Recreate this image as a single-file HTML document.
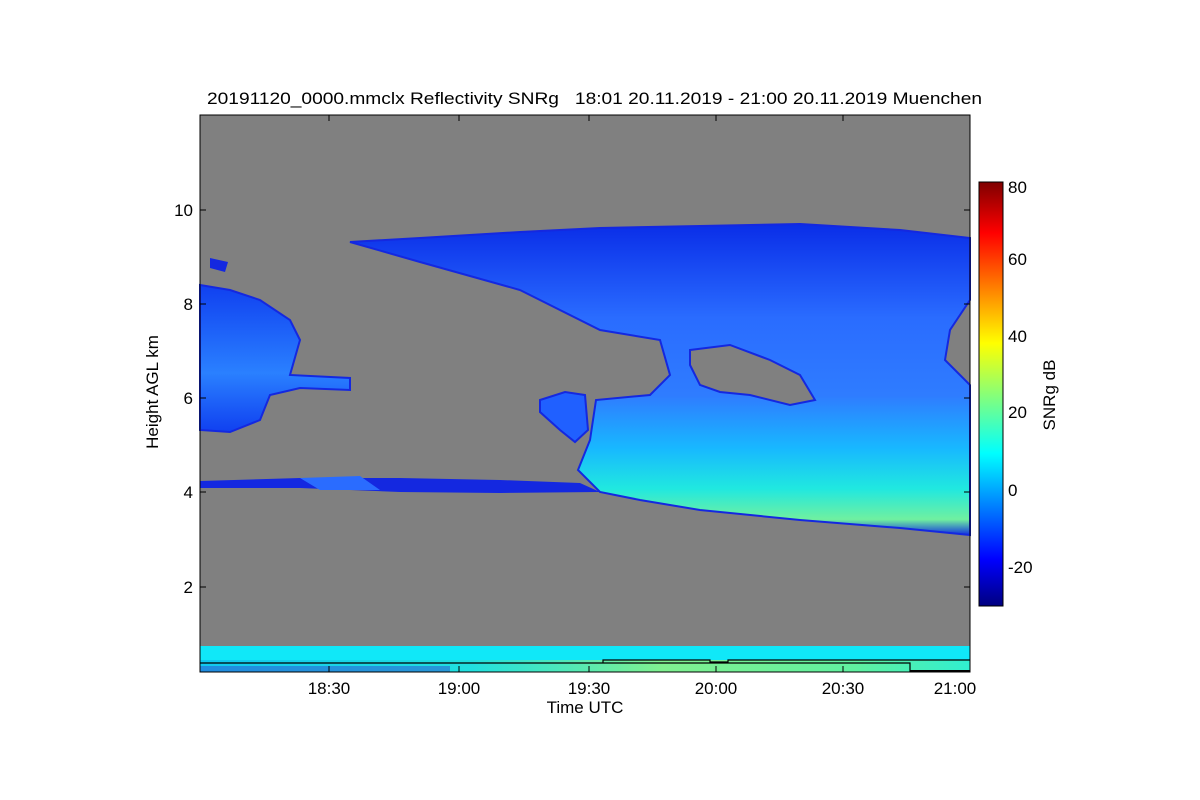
<!DOCTYPE html><html><head><style>body{margin:0;background:#fff}svg{display:block}text{font-family:"Liberation Sans",sans-serif;fill:#000}</style></head><body>
<svg width="1200" height="800" viewBox="0 0 1200 800" xmlns="http://www.w3.org/2000/svg">
<defs>
<linearGradient id="jet" x1="0" y1="1" x2="0" y2="0">
<stop offset="0" stop-color="#00007f"/><stop offset="0.11" stop-color="#0000ff"/><stop offset="0.36" stop-color="#00ffff"/><stop offset="0.62" stop-color="#ffff00"/><stop offset="0.88" stop-color="#ff0000"/><stop offset="1" stop-color="#7f0000"/>
</linearGradient>
<linearGradient id="cv" x1="0" y1="225" x2="0" y2="535" gradientUnits="userSpaceOnUse">
<stop offset="0" stop-color="#0a2ee8"/><stop offset="0.3" stop-color="#2a6cff"/><stop offset="0.55" stop-color="#2f7cff"/><stop offset="0.72" stop-color="#18b8ff"/><stop offset="0.85" stop-color="#20e8e0"/><stop offset="0.95" stop-color="#70f0a0"/><stop offset="1" stop-color="#1030e0"/>
</linearGradient>
<linearGradient id="cl" x1="0" y1="285" x2="0" y2="432" gradientUnits="userSpaceOnUse">
<stop offset="0" stop-color="#1040f0"/><stop offset="0.6" stop-color="#2a80ff"/><stop offset="1" stop-color="#1040f0"/>
</linearGradient>
<linearGradient id="gh" x1="200" y1="0" x2="970" y2="0" gradientUnits="userSpaceOnUse">
<stop offset="0" stop-color="#10c8f0"/><stop offset="0.35" stop-color="#20e0e0"/><stop offset="0.6" stop-color="#80f090"/><stop offset="0.85" stop-color="#60f0a0"/><stop offset="1" stop-color="#30f0d0"/>
</linearGradient>
</defs>
<text x="207" y="104" font-size="17" textLength="775" lengthAdjust="spacingAndGlyphs" xml:space="preserve">20191120_0000.mmclx Reflectivity SNRg   18:01 20.11.2019 - 21:00 20.11.2019 Muenchen</text>
<rect x="200" y="115" width="770" height="557" fill="#808080"/>
<path d="M350,242 L420,238 L520,232 L600,228 L700,226 L800,224 L900,230 L970,238 L970,300 L950,330 L945,360 L970,385 L970,535 L900,528 L800,520 L700,510 L640,500 L600,492 L578,470 L590,440 L596,400 L650,395 L670,375 L660,340 L600,330 L520,290 L420,262 Z" fill="url(#cv)" stroke="#1428e0" stroke-width="2"/>
<path d="M690,350 L730,345 L770,360 L800,375 L815,400 L790,405 L750,395 L720,392 L700,385 L690,365 Z" fill="#808080" stroke="#1428e0" stroke-width="2"/>
<path d="M200,481 L300,478 L400,478 L500,480 L580,483 L600,492 L500,493 L400,492 L300,488 L200,488 Z" fill="#1428e0"/>
<path d="M300,478 L360,476 L380,490 L320,490 Z" fill="#2a6cff"/>
<path d="M200,285 L230,290 L260,300 L290,320 L300,340 L290,375 L350,378 L350,390 L300,388 L270,395 L260,420 L230,432 L200,430 Z" fill="url(#cl)" stroke="#1428e0" stroke-width="2"/>
<path d="M210,258 L228,262 L225,272 L210,268 Z" fill="#1428e0"/>
<path d="M540,400 L565,392 L585,395 L588,430 L575,442 L560,430 L540,412 Z" fill="#2060ff" stroke="#1428e0" stroke-width="2"/>
<rect x="200" y="646" width="770" height="15" fill="#10e8f8"/>
<rect x="200" y="660" width="770" height="12" fill="url(#gh)"/>
<rect x="200" y="666" width="250" height="6" fill="#3050d0" opacity="0.5"/>
<path d="M200,663 H910 V672 M603,663 V660 H710 V662 H728 V660 H970" fill="none" stroke="#000" stroke-width="1.2"/>
<rect x="910" y="670" width="60" height="2" fill="#000"/>
<rect x="200" y="115" width="770" height="557" fill="none" stroke="#000" stroke-width="1"/>
<g stroke="#000" stroke-width="1">
<path d="M200,210h6M200,304h6M200,398h6M200,492h6M200,587h6M970,210h-6M970,304h-6M970,398h-6M970,492h-6M970,587h-6"/>
<path d="M329,672v-6M459,672v-6M589,672v-6M716,672v-6M843,672v-6M329,115v6M459,115v6M589,115v6M716,115v6M843,115v6"/>
</g>
<g font-size="17" text-anchor="end">
<text x="193" y="216">10</text><text x="193" y="310">8</text><text x="193" y="404">6</text><text x="193" y="498">4</text><text x="193" y="593">2</text>
</g>
<g font-size="17" text-anchor="middle">
<text x="329" y="694">18:30</text><text x="459" y="694">19:00</text><text x="589" y="694">19:30</text><text x="716" y="694">20:00</text><text x="843" y="694">20:30</text><text x="955" y="694">21:00</text>
<text x="585" y="713">Time UTC</text>
</g>
<text transform="translate(158,392) rotate(-90)" font-size="17" text-anchor="middle">Height AGL km</text>
<rect x="979" y="182" width="24" height="424" fill="url(#jet)" stroke="#000" stroke-width="1"/>
<g font-size="17">
<text x="1008" y="193">80</text><text x="1008" y="265">60</text><text x="1008" y="342">40</text><text x="1008" y="418">20</text><text x="1008" y="496">0</text><text x="1008" y="573">-20</text>
</g>
<text transform="translate(1055,395) rotate(-90)" font-size="17" text-anchor="middle">SNRg dB</text>
</svg></body></html>
